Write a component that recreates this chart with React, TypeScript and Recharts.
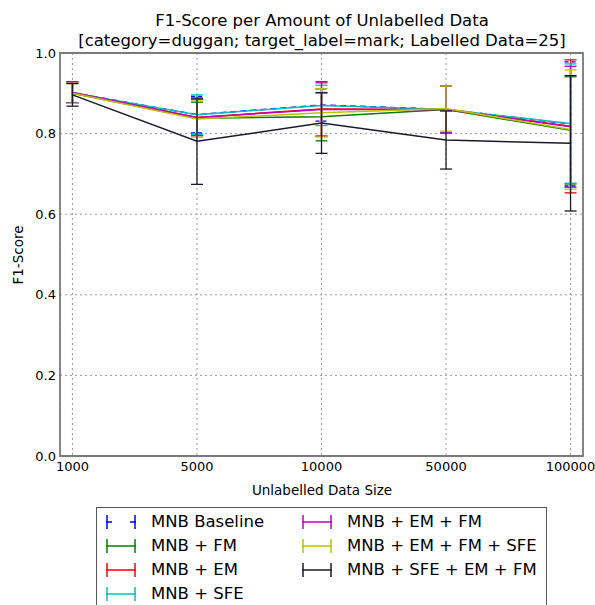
import React from 'react';
import { LineChart, Line, XAxis, YAxis, CartesianGrid, ErrorBar, ReferenceArea, Legend } from 'recharts';

const categories = ['1000', '5000', '10000', '50000', '100000'];
const yTicks = [0, 0.2, 0.4, 0.6, 0.8, 1.0];

const baseline = [0.901, 0.847, 0.871, 0.860, 0.824];
const baselineErr = [0.025, 0.045, 0.040, 0.058, 0.154];
const fm = [0.900, 0.838, 0.842, 0.860, 0.808];
const fmErr = [0.025, 0.040, 0.060, 0.058, 0.133];
const em = [0.902, 0.840, 0.861, 0.860, 0.818];
const emErr = [0.027, 0.045, 0.068, 0.058, 0.165];
const sfe = [0.901, 0.847, 0.870, 0.860, 0.825];
const sfeErr = [0.025, 0.049, 0.050, 0.058, 0.148];
const emFm = [0.902, 0.840, 0.860, 0.860, 0.817];
const emFmErr = [0.026, 0.045, 0.066, 0.058, 0.150];
const emFmSfe = [0.900, 0.836, 0.852, 0.862, 0.810];
const emFmSfeErr = [0.025, 0.045, 0.060, 0.056, 0.148];
const sfeEmFm = [0.896, 0.781, 0.826, 0.784, 0.776];
const sfeEmFmErr = [0.028, 0.107, 0.075, 0.072, 0.168];

const seriesList = [
  { key: 'baseline', name: 'MNB Baseline', color: '#0000ff', values: baseline, err: baselineErr, dashed: true },
  { key: 'fm', name: 'MNB + FM', color: '#008000', values: fm, err: fmErr, dashed: false },
  { key: 'em', name: 'MNB + EM', color: '#ff0000', values: em, err: emErr, dashed: false },
  { key: 'sfe', name: 'MNB + SFE', color: '#00bfbf', values: sfe, err: sfeErr, dashed: false },
  { key: 'emFm', name: 'MNB + EM + FM', color: '#bf00bf', values: emFm, err: emFmErr, dashed: false },
  { key: 'emFmSfe', name: 'MNB + EM + FM + SFE', color: '#bfbf00', values: emFmSfe, err: emFmSfeErr, dashed: false },
  { key: 'sfeEmFm', name: 'MNB + SFE + EM + FM', color: '#1a1a2a', values: sfeEmFm, err: sfeEmFmErr, dashed: false },
];

const data = categories.map((c, i) => {
  const row: Record<string, number | string> = { x: i, label: c };
  seriesList.forEach((s) => {
    row[s.key] = s.values[i];
    row[s.key + 'Err'] = s.err[i];
  });
  return row;
});

const FONT = 'DejaVu Sans, sans-serif';

const renderLegend = () => (
  <div
    style={{
      position: 'relative',
      width: 451,
      height: 110,
      border: '1.5px solid #555',
      boxSizing: 'border-box',
      background: '#fff',
      fontFamily: FONT,
    }}
  >
    {seriesList.map((s, i) => {
      const col = i < 4 ? 0 : 1;
      const row = i < 4 ? i : i - 4;
      const cy = 13.5 + row * 24;
      const symLeft = col === 0 ? 9 : 205;
      const textLeft = col === 0 ? 54 : 250;
      return (
        <React.Fragment key={s.key}>
          <svg width={30} height={16} style={{ position: 'absolute', left: symLeft, top: cy - 8 }}>
            <line x1={0} y1={8} x2={30} y2={8} stroke={s.color} strokeWidth={1.5} strokeDasharray={s.dashed ? '6 18' : undefined} />
            <line x1={1} y1={1} x2={1} y2={15} stroke={s.color} strokeWidth={1.5} />
            <line x1={29} y1={1} x2={29} y2={15} stroke={s.color} strokeWidth={1.5} />
          </svg>
          <div
            style={{
              position: 'absolute',
              left: textLeft,
              top: cy - 11,
              height: 22,
              lineHeight: '22px',
              fontSize: 16.5,
              color: '#000',
              whiteSpace: 'nowrap',
            }}
          >
            {s.name}
          </div>
        </React.Fragment>
      );
    })}
  </div>
);

export default function App() {
  return (
    <div style={{ position: 'absolute', left: 0, top: 0, width: 595, height: 605, background: '#fff', fontFamily: FONT }}>
      <LineChart
        width={595}
        height={605}
        data={data}
        margin={{ top: 53, right: 12, bottom: 109, left: 0 }}
        style={{ fontFamily: FONT }}
      >
        <CartesianGrid stroke="#9a9a9a" strokeDasharray="2 3" strokeWidth={1} />
        <XAxis
          dataKey="x"
          type="number"
          domain={[-0.1, 4.1]}
          ticks={[0, 1, 2, 3, 4]}
          tickFormatter={(v: number) => categories[v] ?? ''}
          axisLine={false}
          tickLine={false}
          tickSize={2}
          tickMargin={4}
          tick={{ fill: '#000', fontSize: 13, fontFamily: FONT }}
          allowDataOverflow
          height={40}
        />
        <YAxis
          type="number"
          domain={[0, 1]}
          ticks={yTicks}
          tickFormatter={(v: number) => v.toFixed(1)}
          axisLine={false}
          tickLine={false}
          tickSize={2}
          tickMargin={2}
          width={60}
          tick={{ fill: '#000', fontSize: 13, fontFamily: FONT }}
        />
        <ReferenceArea x1={-0.1} x2={4.1} y1={0} y2={1} fill="none" stroke="#7a7a7a" strokeWidth={1.8} ifOverflow="visible" />
        {seriesList.map((s) => (
          <Line
            key={s.key}
            dataKey={s.key}
            name={s.name}
            stroke={s.color}
            strokeWidth={1.5}
            strokeDasharray={s.dashed ? '6 4' : undefined}
            dot={false}
            activeDot={false}
            isAnimationActive={false}
          >
            <ErrorBar
              dataKey={s.key + 'Err'}
              width={6}
              stroke={s.color}
              strokeWidth={1.3}
              strokeDasharray={s.dashed ? '4 3' : undefined}
              direction="y"
              isAnimationActive={false}
            />
          </Line>
        ))}
        <Legend
          layout="horizontal"
          verticalAlign="middle"
          align="center"
          content={renderLegend}
          wrapperStyle={{ left: 96, top: 507, width: 451, height: 110 }}
        />
        <text x={322} y={20} textAnchor="middle" dominantBaseline="central" fontSize={16.5} fontFamily={FONT} fill="#000">
          F1-Score per Amount of Unlabelled Data
        </text>
        <text x={322} y={40} textAnchor="middle" dominantBaseline="central" fontSize={16.5} fontFamily={FONT} fill="#000">
          [category=duggan; target_label=mark; Labelled Data=25]
        </text>
        <text x={322} y={490} textAnchor="middle" dominantBaseline="central" fontSize={13.5} fontFamily={FONT} fill="#000">
          Unlabelled Data Size
        </text>
        <text
          x={18}
          y={255}
          textAnchor="middle"
          dominantBaseline="central"
          fontSize={13.5}
          fontFamily={FONT}
          fill="#000"
          transform="rotate(-90 18 255)"
        >
          F1-Score
        </text>
      </LineChart>
    </div>
  );
}
